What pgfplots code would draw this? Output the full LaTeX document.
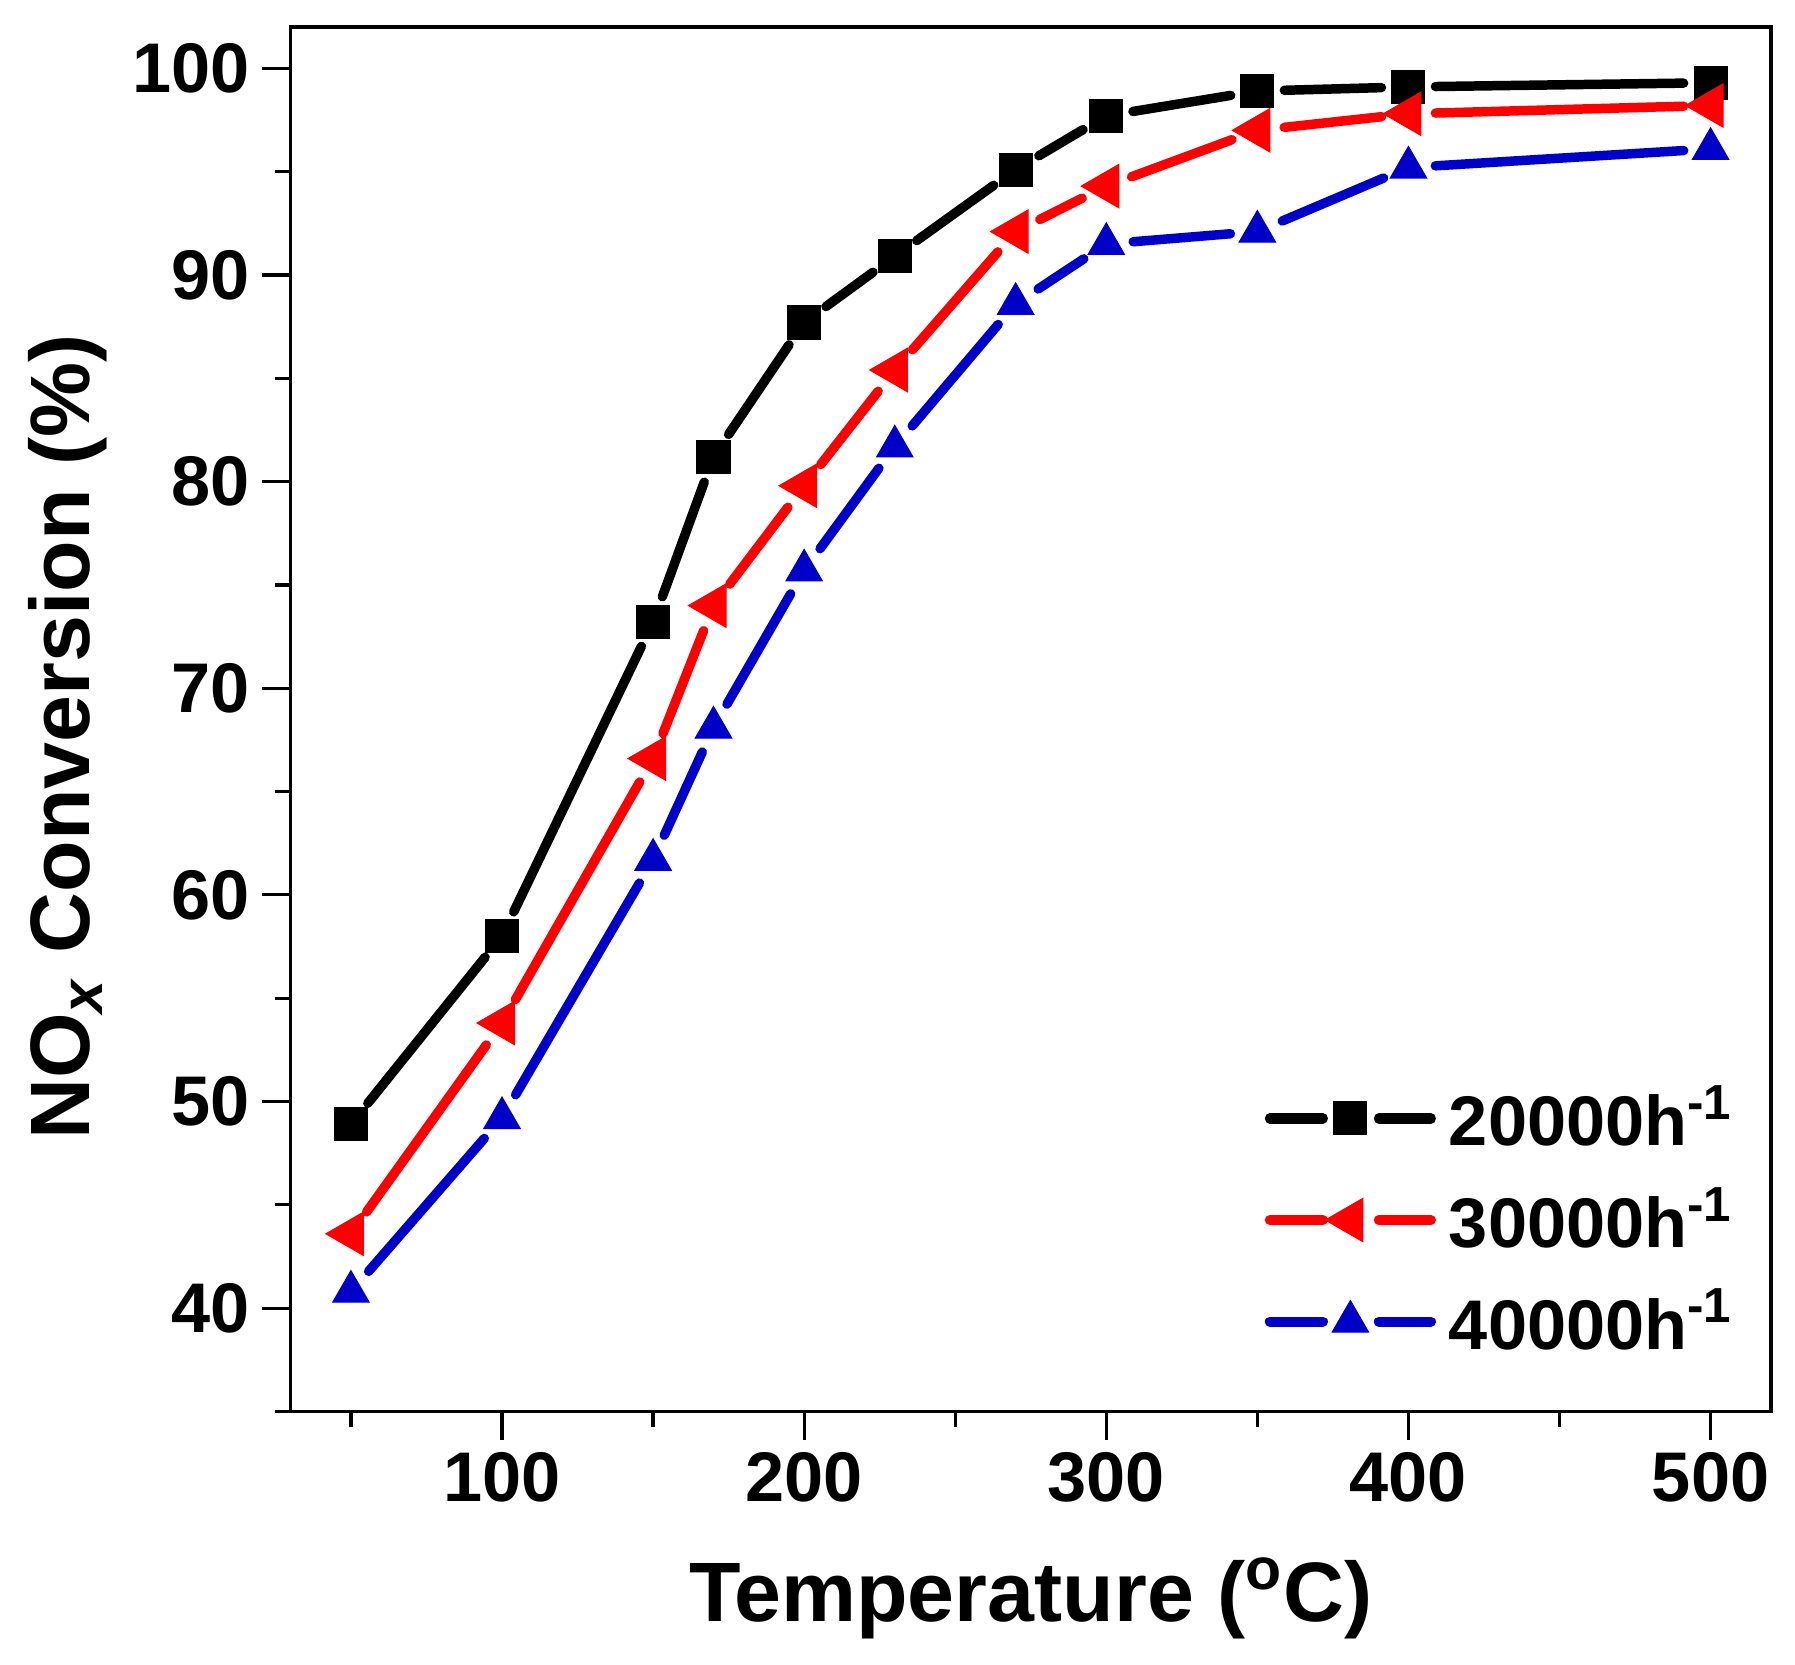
\documentclass[border=0pt]{standalone}
\usepackage{fontspec}
\setmainfont{Liberation Sans}
\usepackage{pgfplots}
\pgfplotsset{compat=1.18}
\usepackage{pgfplotstable}

\definecolor{oblue}{RGB}{0,0,200}

% x y = point, nx ny = next point (segment end)
\pgfplotstableread{
x   y    nx  ny
50  48.9 100 58.0
100 58.0 150 73.2
150 73.2 170 81.2
170 81.2 200 87.7
200 87.7 230 90.9
230 90.9 270 95.1
270 95.1 300 97.7
300 97.7 350 98.9
350 98.9 400 99.1
400 99.1 500 99.3
500 99.3 500 99.3
}\blackdata

\pgfplotstableread{
x   y    nx  ny
50  43.6 100 53.8
100 53.8 150 66.6
150 66.6 170 74.0
170 74.0 200 79.8
200 79.8 230 85.4
230 85.4 270 92.1
270 92.1 300 94.3
300 94.3 350 97.0
350 97.0 400 97.8
400 97.8 500 98.2
500 98.2 500 98.2
}\reddata

\pgfplotstableread{
x   y    nx  ny
50  40.8 100 49.2
100 49.2 150 61.7
150 61.7 170 68.1
170 68.1 200 75.7
200 75.7 230 81.7
230 81.7 270 88.6
270 88.6 300 91.5
300 91.5 350 92.1
350 92.1 400 95.2
400 95.2 500 96.1
500 96.1 500 96.1
}\bluedata

\pgfplotsset{
  seg/.style={forget plot, no markers,
    quiver={u=\thisrow{nx}-\thisrow{x}, v=\thisrow{ny}-\thisrow{y},
      every arrow/.append style={line width=2.7pt, line cap=round,
        shorten <=2.7mm, shorten >=2.7mm}},
    skip coords between index={10}{11}},
  gaplegend/.style={legend image code/.code={
    \draw[#1, line width=2.9pt, line cap=round] (0mm,0mm) -- (5.3mm,0mm) (10.9mm,0mm) -- (16.1mm,0mm);
    \draw plot coordinates {(8.05mm,0mm)};
  }},
}

\begin{document}
\begin{tikzpicture}
\begin{axis}[
  scale only axis,
  width=148.05mm, height=138.45mm,
  xmin=30, xmax=520, ymin=35, ymax=102,
  xtick={100,200,...,500}, minor xtick={50,150,...,450},
  ytick={40,50,...,100}, minor ytick={35,45,...,95},
  tick pos=left, tick align=outside,
  major tick length=2.8mm, minor tick length=1.5mm,
  axis line style={line width=0.95pt},
  tick style={black, line width=0.9pt},
  /pgf/number format/assume math mode=true,
  tick label style={font=\fontsize{20}{24}\selectfont\bfseries},
  xlabel={Temperature (\textsuperscript{o}C)},
  ylabel={NO\textsubscript{\textit{x}} Conversion (\%)},
  xlabel style={font=\fontsize{24}{29}\selectfont\bfseries,
    at={(axis description cs:0.5,-0.1516)}, anchor=base},
  ylabel style={font=\fontsize{24}{29}\selectfont\bfseries,
    at={(axis description cs:-0.1357,0.487)}, anchor=base},
  legend style={at={(axis description cs:0.6576,0.1383)}, anchor=west,
    draw=none, fill=none, inner sep=0pt, row sep=2.6mm, column sep=0.8mm,
    font=\fontsize{20}{24}\selectfont\bfseries,
    nodes={inner sep=0.5mm}},
  legend cell align=left,
]
% 20000 h^-1
\addplot[black, seg] table {\blackdata};
\addplot[only marks, black, mark=square*, mark size=1.65mm,
  mark options={line width=0.3pt}, gaplegend=black] table[x=x, y=y] {\blackdata};
\addlegendentry{20000h\textsuperscript{-1}}
% 30000 h^-1
\addplot[red, seg] table {\reddata};
\addplot[only marks, red, mark=triangle*, mark size=2.5mm,
  mark options={rotate=90, line width=0.3pt}, gaplegend=red] table[x=x, y=y] {\reddata};
\addlegendentry{30000h\textsuperscript{-1}}
% 40000 h^-1
\addplot[oblue, seg] table {\bluedata};
\addplot[only marks, oblue, mark=triangle*, mark size=2.1mm,
  mark options={line width=0.3pt}, gaplegend=oblue] table[x=x, y=y] {\bluedata};
\addlegendentry{40000h\textsuperscript{-1}}
\end{axis}
\pgfresetboundingbox
\path ([xshift=-29.05mm,yshift=-25.25mm]current axis.south west) rectangle ([xshift=2.4mm,yshift=2.7mm]current axis.north east);
\end{tikzpicture}
\end{document}
